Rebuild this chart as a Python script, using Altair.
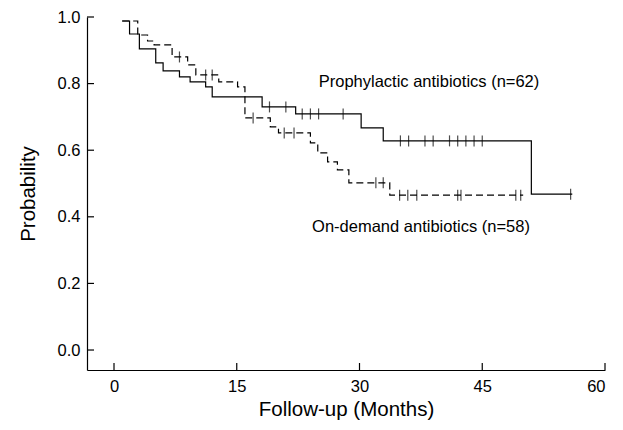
import altair as alt
import pandas as pd

# Prophylactic antibiotics (solid line): step times (months) and survival
pro_t = [1.0, 1.9, 3.1, 5.1, 6.0, 8.0, 9.3, 11.2, 12.0, 18.1, 22.2, 30.2, 32.9, 51.0, 56.0]
pro_s = [0.988, 0.949, 0.904, 0.862, 0.838, 0.820, 0.805, 0.790, 0.760, 0.730, 0.709, 0.667, 0.628, 0.468, 0.468]
pro_cens = [19, 21, 23, 24, 25, 28, 35, 36, 38, 39, 41, 42, 43, 44, 45, 55.8]

# On-demand antibiotics (dashed line)
dem_t = [1.0, 2.9, 4.1, 4.9, 7.1, 9.0, 10.0, 12.8, 15.1, 16.0, 19.1, 20.1, 24.0, 24.9, 26.1, 27.3, 28.7, 33.7, 50.0]
dem_s = [0.988, 0.946, 0.928, 0.916, 0.880, 0.856, 0.826, 0.805, 0.790, 0.697, 0.670, 0.652, 0.622, 0.592, 0.565, 0.541, 0.502, 0.465, 0.465]
dem_cens = [8, 11.2, 12, 17, 20.8, 22, 32, 32.9, 34.9, 35.9, 37, 42, 42.4, 49.1, 49.7]

x_ticks = [0, 15, 30, 45, 60]
y_ticks = [0.0, 0.2, 0.4, 0.6, 0.8, 1.0]

label_pro = "Prophylactic antibiotics (n=62)"
label_dem = "On-demand antibiotics (n=58)"


def step_value(ts, ss, t):
    v = ss[0]
    for ti, si in zip(ts, ss):
        if ti <= t:
            v = si
    return v


pro_df = pd.DataFrame({"t": pro_t, "s": pro_s})
dem_df = pd.DataFrame({"t": dem_t, "s": dem_s})
pro_c = pd.DataFrame({"t": pro_cens, "s": [step_value(pro_t, pro_s, c) for c in pro_cens]})
dem_c = pd.DataFrame({"t": dem_cens, "s": [step_value(dem_t, dem_s, c) for c in dem_cens]})

W, H = 518, 353
FONT = "Liberation Sans"
xscale = alt.Scale(domain=[-3.3, 60], nice=False, zero=False)
yscale = alt.Scale(domain=[-0.06, 1.0], nice=False, zero=False)

xenc = alt.X("t:Q", scale=xscale,
             axis=alt.Axis(values=x_ticks, ticks=False, grid=False, title="Follow-up (Months)",
                           labelFontSize=16.5, titleFontSize=20.5, labelPadding=8, titlePadding=5,
                           titleFontWeight="normal", domainColor="#000", labelColor="#000",
                           titleColor="#000", labelFont=FONT, titleFont=FONT, domainWidth=1.2))
yenc = alt.Y("s:Q", scale=yscale,
             axis=alt.Axis(values=y_ticks, format=".1f", ticks=False, grid=False, title="Probability",
                           labelFontSize=16.5, titleFontSize=20.5, labelPadding=7, titlePadding=19,
                           titleFontWeight="normal", domainColor="#000", labelColor="#000",
                           titleColor="#000", labelFont=FONT, titleFont=FONT, domainWidth=1.2))

pro_line = alt.Chart(pro_df).mark_line(interpolate="step-after", color="#000", strokeWidth=1.2).encode(
    x=xenc, y=yenc)
dem_line = alt.Chart(dem_df).mark_line(interpolate="step-after", color="#000", strokeWidth=1.2,
                                       strokeDash=[7, 4]).encode(x=xenc, y=yenc)
pro_tick = alt.Chart(pro_c).mark_tick(orient="vertical", size=11, thickness=1.2, color="#000").encode(
    x=alt.X("t:Q", scale=xscale), y=alt.Y("s:Q", scale=yscale))
dem_tick = alt.Chart(dem_c).mark_tick(orient="vertical", size=11, thickness=1.2, color="#000").encode(
    x=alt.X("t:Q", scale=xscale), y=alt.Y("s:Q", scale=yscale))

xt = alt.Chart(pd.DataFrame({"v": x_ticks})).mark_rule(color="#000", strokeWidth=1.2).encode(
    x=alt.X("v:Q", scale=xscale), y=alt.value(H), y2=alt.value(H - 7))
yt = alt.Chart(pd.DataFrame({"v": y_ticks})).mark_rule(color="#000", strokeWidth=1.2).encode(
    y=alt.Y("v:Q", scale=yscale), x=alt.value(0), x2=alt.value(7))

txt = alt.Chart(pd.DataFrame({"label": [label_pro, label_dem], "px": [342, 334], "py": [65, 210]})).mark_text(
    fontSize=16.5, font=FONT, color="#000", align="center", baseline="middle").encode(
    text="label:N", x=alt.X("px:Q", scale=None), y=alt.Y("py:Q", scale=None))

chart = alt.layer(dem_line, pro_line, dem_tick, pro_tick, xt, yt, txt).properties(
    width=W, height=H,
    autosize=alt.AutoSizeParams(type="none"),
    padding={"left": 79, "top": 9, "right": 10, "bottom": 60},
).configure_view(stroke=None)

chart.save("out.html", embed_options={"renderer": "svg", "actions": False})
